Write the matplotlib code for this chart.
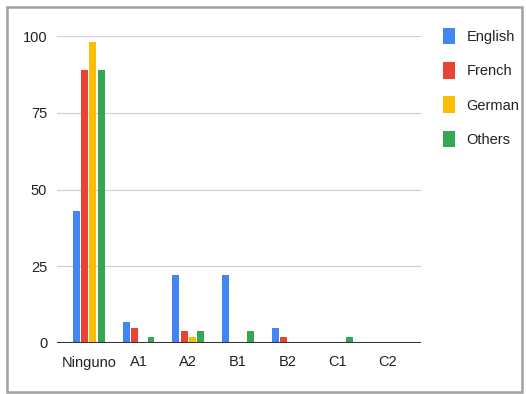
import matplotlib.pyplot as plt
from matplotlib.patches import Patch, Rectangle
import numpy as np

plt.rcParams['font.family'] = ['Liberation Sans', 'DejaVu Sans']

levels = ["Ninguno", "A1", "A2", "B1", "B2", "C1", "C2"]
english = [43, 7, 22, 22, 5, 0, 0]
french = [89, 5, 4, 0, 2, 0, 0]
german = [98, 0, 2, 0, 0, 0, 0]
others = [89, 2, 4, 4, 0, 2, 0]

series = ["English", "French", "German", "Others"]
colors = ["#4285F4", "#EA4335", "#FBBC04", "#34A853"]

W, H = 526, 394
fig = plt.figure(figsize=(W / 100, H / 100), dpi=100, facecolor="white")
ax = fig.add_axes([57 / W, (H - 343) / H, (421 - 57) / W, (343 - 36) / H])

x = np.arange(len(levels))
step = 0.167
for i, (vals, c) in enumerate(zip([english, french, german, others], colors)):
    ax.bar(x + (i - 1.5) * step, vals, width=0.14, color=c, zorder=3)

ax.set_xlim(-0.64, 6.68)
ax.set_ylim(0, 100)
ax.set_yticks([0, 25, 50, 75, 100])
ax.set_xticks(x)
ax.set_xticklabels(levels)
ax.tick_params(length=0, labelsize=10.5, colors="#222222")
ax.tick_params(axis="y", pad=7)
ax.tick_params(axis="x", pad=9)
ax.grid(axis="y", color="#d0d0d0", linewidth=0.9, zorder=0)
ax.axhline(0, color="#333333", linewidth=1.5, zorder=4)
for s in ax.spines.values():
    s.set_visible(False)
for lbl in ax.get_yticklabels():
    lbl.set_clip_on(False)

handles = [Patch(facecolor=c, edgecolor="none") for c in colors]
fig.legend(handles, series, loc="upper left", bbox_to_anchor=(430 / W, 1 - 15 / H),
           frameon=False, fontsize=10.5, handlelength=0.8, handleheight=1.35,
           labelspacing=1.22, handletextpad=0.8, labelcolor="#222222")

fig.patches.append(Rectangle((7 / W, 2 / H), 515 / W, 385 / H, transform=fig.transFigure,
                             fill=False, edgecolor="#a0a0a0", linewidth=1.8))

fig.savefig("out.png", dpi=100)
